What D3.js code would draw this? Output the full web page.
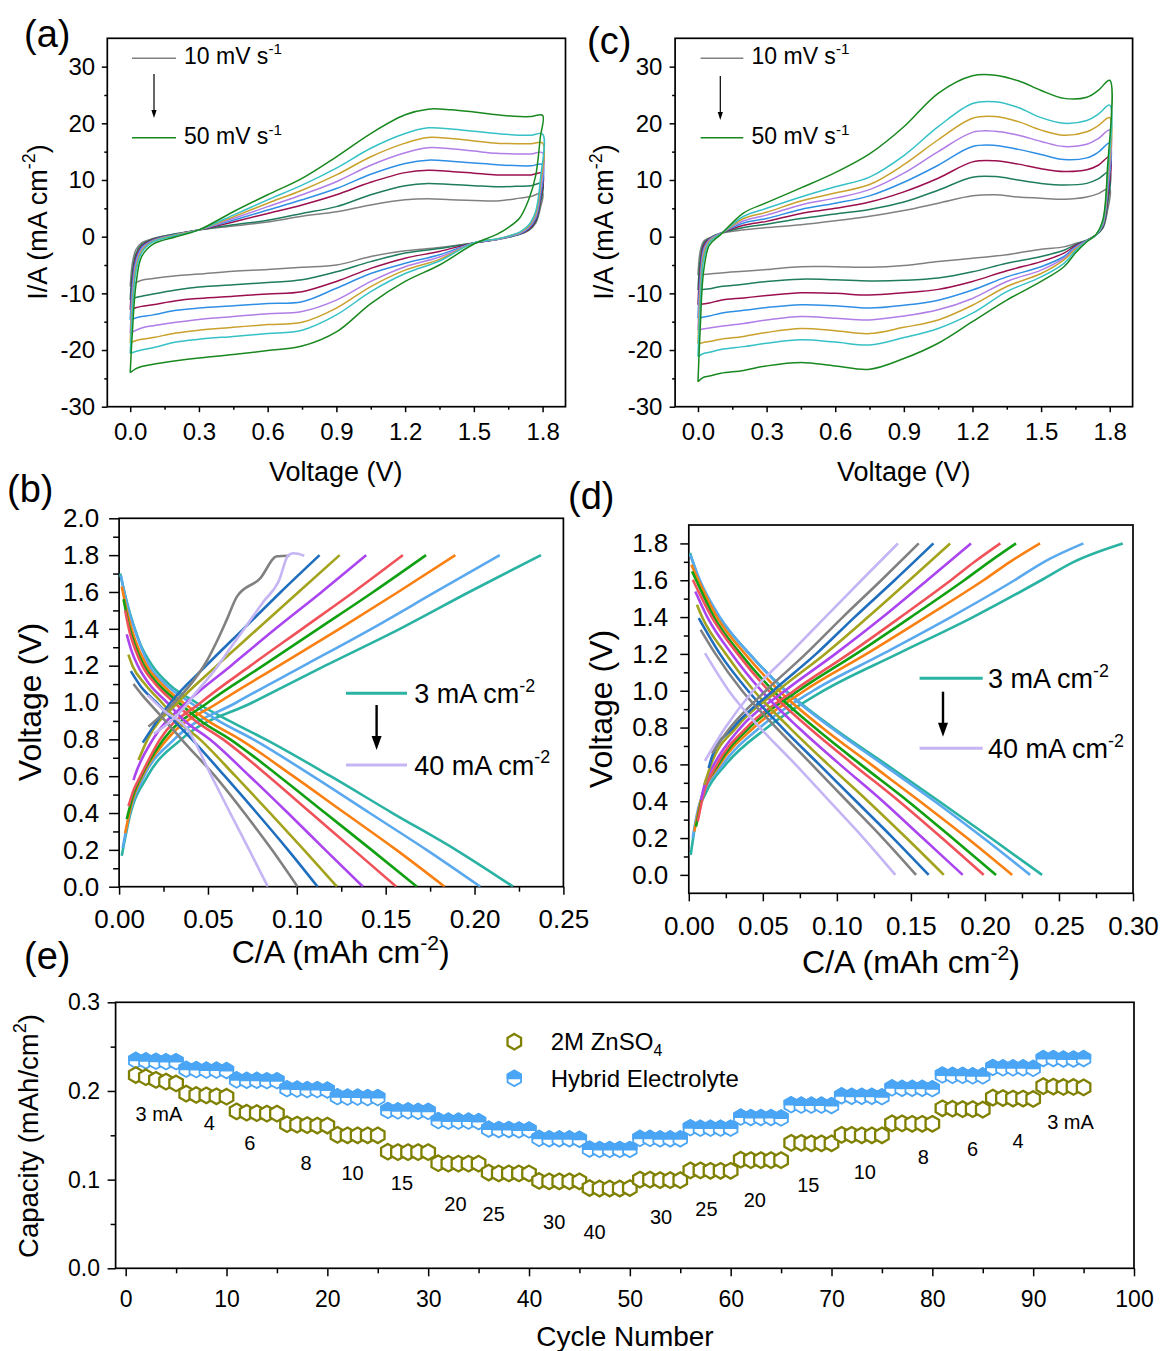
<!DOCTYPE html>
<html><head><meta charset="utf-8">
<script src="https://cdn.jsdelivr.net/npm/d3@7"></script>
<style>
body{margin:0;background:#fff}
svg{display:block;background:#fff}
</style></head><body>
<svg id="chart" width="1162" height="1351"></svg>
<script>
// ================= DATA =================
// CV panels (a) and (c): 8 scan rates (only first and last are labelled)
const cvScanRates = [10, 15, 20, 25, 30, 35, 40, 50];
const cvColors = ["#808080","#1f7c5e","#9b0f4e","#2f8fe4","#b07ee6","#c9a12c","#35c1c5","#18881f"];
const cvUpperV = [0,0.01,0.025,0.05,0.1,0.2,0.3,0.45,0.6,0.75,0.9,1.05,1.2,1.3,1.4,1.5,1.6,1.7,1.75,1.8];
const cvLowerV = [1.8,1.79,1.77,1.74,1.7,1.65,1.6,1.5,1.35,1.2,1.05,0.9,0.75,0.6,0.45,0.3,0.2,0.1,0.05,0.02,0];

const cvA_upper = [
 [-8.8,-4.5,-2.3,-1.1,-0.3,0.5,1.2,1.9,2.6,3.6,4.4,5.6,6.5,6.7,6.5,6.4,6.3,6.8,7.1,7.7],
 [-11.2,-6.0,-3.0,-1.4,-0.4,0.5,1.2,2.1,2.9,4.1,5.3,7.4,9.0,9.4,9.2,9.0,8.8,8.9,9.0,9.4],
 [-12.9,-7.5,-3.6,-1.7,-0.5,0.4,1.2,2.6,4.1,5.6,7.4,9.6,11.3,11.7,11.5,11.2,10.9,10.9,10.9,11.2],
 [-14.7,-8.5,-4.2,-1.9,-0.6,0.4,1.2,2.9,4.7,6.5,8.5,11.0,12.9,13.5,13.3,13.0,12.7,12.5,12.5,12.7],
 [-17.1,-10.0,-4.8,-2.2,-0.7,0.3,1.2,3.2,5.3,7.4,9.7,12.6,14.8,15.7,15.5,15.1,14.7,14.6,14.6,14.8],
 [-18.7,-11.5,-5.5,-2.5,-0.8,0.3,1.2,3.5,5.9,8.2,10.9,14.1,16.5,17.5,17.3,16.9,16.5,16.4,16.4,16.5],
 [-20.6,-13.0,-6.2,-2.8,-0.9,0.2,1.2,3.8,6.5,9.1,12.1,15.6,18.2,19.2,19.0,18.6,18.2,17.9,17.9,18.1],
 [-24.0,-16.5,-8.5,-3.5,-1.3,0.0,1.2,4.4,7.4,10.3,14.1,18.2,21.5,22.5,22.4,22.0,21.5,21.2,21.2,21.4]
];
const cvA_lower = [
 [7.7,5.0,2.4,1.1,0.4,-0.1,-0.5,-1.1,-1.9,-2.5,-3.5,-5.0,-5.4,-5.8,-6.1,-6.6,-6.9,-7.4,-7.7,-8.2,-8.8],
 [9.4,5.8,2.6,1.2,0.4,-0.1,-0.5,-1.1,-2.1,-2.9,-4.4,-6.2,-7.6,-8.1,-8.5,-8.9,-9.4,-10.1,-10.5,-10.8,-11.2],
 [11.2,6.4,2.9,1.3,0.5,0.0,-0.5,-1.1,-2.6,-3.8,-5.6,-7.9,-9.7,-10.1,-10.5,-10.9,-11.3,-12.0,-12.3,-12.6,-12.9],
 [12.7,7.0,3.2,1.5,0.5,0.0,-0.5,-1.1,-3.2,-4.7,-6.5,-9.1,-11.5,-11.8,-12.2,-12.6,-13.0,-13.8,-14.1,-14.4,-14.7],
 [14.8,8.0,3.6,1.7,0.6,0.0,-0.5,-1.1,-3.6,-5.3,-7.9,-11.2,-13.2,-13.6,-14.1,-14.6,-15.1,-15.7,-16.1,-16.6,-17.1],
 [16.5,9.0,4.0,1.9,0.7,0.1,-0.4,-1.1,-4.0,-5.9,-8.8,-12.6,-15.1,-15.5,-16.0,-16.5,-17.0,-17.8,-18.1,-18.4,-18.7],
 [18.1,10.0,4.5,2.1,0.8,0.1,-0.4,-1.1,-4.3,-6.5,-9.7,-13.8,-16.5,-17.1,-17.6,-18.1,-18.6,-19.6,-20.0,-20.3,-20.6],
 [21.4,17.5,10.8,6.6,3.3,1.6,0.4,-1.3,-5.0,-7.9,-11.8,-16.8,-19.3,-20.1,-20.8,-21.4,-21.9,-22.5,-22.9,-23.4,-24.0]
];
const cvC_upper = [
 [-6.8,-2.5,-0.8,-0.2,0.6,1.2,1.6,2.1,2.8,3.6,4.6,5.9,7.2,7.4,7.0,6.8,6.6,7.0,7.6,8.5],
 [-9.4,-4.0,-1.2,-0.3,0.6,1.6,2.2,3.2,4.0,4.8,6.1,8.2,10.5,10.6,10.0,9.4,9.1,9.4,10.2,11.5],
 [-12.0,-5.5,-1.6,-0.4,0.6,2.0,2.7,4.1,5.0,6.1,7.9,10.3,13.2,13.4,12.8,12.0,11.5,11.8,12.6,14.1],
 [-14.4,-7.0,-2.1,-0.5,0.6,2.4,3.2,4.8,5.9,7.2,9.6,12.6,15.9,16.1,15.4,14.5,13.6,13.9,14.9,16.5],
 [-16.5,-8.5,-2.6,-0.6,0.6,2.8,3.8,5.6,6.8,8.3,11.2,15.0,18.4,18.6,17.9,16.8,15.9,16.3,17.3,18.8],
 [-18.9,-10.0,-3.2,-0.8,0.5,3.2,4.3,6.3,7.7,9.2,12.7,17.1,20.9,21.2,20.3,18.8,17.9,18.5,19.6,21.0],
 [-21.2,-12.0,-4.0,-1.0,0.5,3.6,5.0,7.0,8.8,10.5,14.3,19.4,23.5,23.8,22.8,21.0,20.0,20.5,21.6,23.2],
 [-25.6,-16.0,-6.0,-1.5,0.4,4.2,6.0,8.6,11.3,14.6,19.4,25.3,28.4,28.5,27.5,25.8,24.4,24.6,25.8,27.6]
];
const cvC_lower = [
 [8.5,4.5,1.5,0.3,-0.6,-1.2,-1.8,-2.2,-3.2,-3.8,-4.4,-5.1,-5.4,-5.3,-5.3,-5.8,-6.1,-6.4,-6.6,-6.7,-6.8],
 [11.5,5.5,1.6,0.3,-0.6,-1.4,-2.4,-3.5,-4.7,-6.2,-7.3,-7.7,-7.8,-7.6,-7.5,-7.9,-8.4,-8.8,-9.2,-9.3,-9.4],
 [14.1,6.5,1.8,0.3,-0.7,-1.6,-2.9,-4.4,-6.0,-7.9,-9.3,-9.9,-10.3,-10.0,-9.9,-10.4,-10.8,-11.2,-11.7,-11.9,-12.0],
 [16.5,7.5,2.0,0.3,-0.7,-1.8,-3.5,-5.3,-7.1,-9.4,-11.2,-12.1,-12.6,-12.2,-12.0,-12.5,-13.0,-13.5,-14.0,-14.2,-14.4],
 [18.8,8.5,2.2,0.3,-0.7,-2.0,-3.8,-5.9,-7.9,-10.9,-12.9,-14.0,-14.7,-14.4,-14.1,-14.7,-15.3,-15.8,-16.1,-16.3,-16.5],
 [21.0,9.5,2.4,0.3,-0.8,-2.2,-4.1,-6.5,-8.8,-12.1,-14.7,-16.0,-17.1,-16.6,-16.2,-16.9,-17.6,-18.1,-18.5,-18.7,-18.9],
 [23.2,10.5,2.6,0.3,-0.8,-2.5,-4.7,-7.1,-9.7,-13.5,-16.2,-17.8,-19.1,-18.6,-18.2,-18.8,-19.4,-19.9,-20.4,-20.7,-21.2],
 [27.6,12.0,3.0,0.4,-0.9,-2.9,-5.3,-7.9,-11.2,-15.0,-18.8,-21.5,-23.4,-22.8,-22.2,-22.8,-23.6,-24.1,-24.6,-24.9,-25.6]
];

// GCD panels (b) and (d): [C/A (mAh cm-2), Voltage (V)] per current density
const gcdCurrents = [3, 4, 6, 8, 10, 15, 20, 25, 30, 40];
const gcdColors = ["#2ab3a2","#5aa9ef","#f98012","#11a011","#f0525a","#ab45ef","#a3a31d","#1f6fbe","#818181","#c5b5f4"];
const gcdB_charge = [
 [[.0015,.168],[.0062,.389],[.016,.6],[.035,.8],[.075,1.0],[.116,1.2],[.158,1.4],[.197,1.6],[.2374,1.8]],
 [[.002,.21],[.0065,.42],[.014,.6],[.031,.8],[.066,1.0],[.104,1.2],[.142,1.4],[.178,1.6],[.2142,1.8]],
 [[.0034,.29],[.0075,.47],[.013,.6],[.027,.8],[.056,1.0],[.090,1.2],[.124,1.4],[.157,1.6],[.1892,1.8]],
 [[.0043,.367],[.008,.5],[.0125,.6],[.025,.8],[.050,1.0],[.081,1.2],[.112,1.4],[.143,1.6],[.1727,1.8]],
 [[.0053,.438],[.008,.52],[.012,.6],[.023,.8],[.046,1.0],[.074,1.2],[.103,1.4],[.132,1.6],[.1597,1.8]],
 [[.0081,.579],[.0088,.6],[.019,.8],[.038,1.0],[.063,1.2],[.088,1.4],[.114,1.6],[.1391,1.8]],
 [[.0109,.688],[.016,.8],[.033,1.0],[.055,1.2],[.078,1.4],[.101,1.6],[.1241,1.8]],
 [[.0133,.782],[.0145,.8],[.029,1.0],[.049,1.2],[.070,1.4],[.091,1.6],[.1128,1.8]],
 [[.0165,.869],[.027,.96],[.035,1.04],[.042,1.12],[.049,1.22],[.0549,1.33],[.0606,1.45],[.0663,1.575],[.0794,1.674],[.0888,1.794],[.0959,1.797]],
 [[.0195,.83],[.0287,.896],[.0362,.968],[.0437,1.059],[.0531,1.167],[.0625,1.294],[.0719,1.42],[.0813,1.548],[.0897,1.656],[.0953,1.80],[.0982,1.81],[.1042,1.797]]
];
const gcdB_discharge = [
 [[.0006,1.70],[.0043,1.548],[.0081,1.421],[.0118,1.321],[.0187,1.2],[.028,1.1],[.0433,1.0],[.062,.9],[.0824,.8],[.119,.6],[.1538,.4],[.1895,.2],[.2217,0]],
 [[.001,1.69],[.0045,1.53],[.009,1.39],[.017,1.2],[.026,1.1],[.040,1.0],[.056,.9],[.0755,.8],[.109,.6],[.141,.4],[.173,.2],[.2033,0]],
 [[.0015,1.63],[.005,1.47],[.009,1.34],[.0155,1.2],[.024,1.1],[.036,1.0],[.050,.9],[.068,.8],[.098,.6],[.127,.4],[.156,.2],[.1832,0]],
 [[.0025,1.56],[.0055,1.42],[.009,1.31],[.014,1.2],[.022,1.1],[.0335,1.0],[.046,.9],[.0625,.8],[.09,.6],[.116,.4],[.142,.2],[.1676,0]],
 [[.0034,1.50],[.006,1.38],[.009,1.29],[.013,1.2],[.0205,1.1],[.031,1.0],[.043,.9],[.0585,.8],[.084,.6],[.108,.4],[.132,.2],[.156,0]],
 [[.0043,1.37],[.007,1.28],[.0105,1.2],[.017,1.1],[.027,1.0],[.037,.9],[.051,.8],[.0735,.6],[.095,.4],[.116,.2],[.1372,0]],
 [[.0052,1.26],[.0075,1.2],[.0145,1.1],[.024,1.0],[.033,.9],[.0455,.8],[.0655,.6],[.085,.4],[.104,.2],[.1226,0]],
 [[.0066,1.17],[.012,1.09],[.021,1.0],[.029,.92],[.041,.8],[.0595,.6],[.0775,.4],[.095,.2],[.1117,0]],
 [[.0081,1.10],[.013,1.04],[.0185,.98],[.026,.9],[.037,.78],[.054,.6],[.0705,.4],[.086,.2],[.1004,0]],
 [[.016,1.04],[.026,.95],[.0381,.86],[.052,.6],[.0625,.4],[.0732,.2],[.0837,0]]
];
const gcdD_charge = [
 [[.0013,.109],[.005,.3],[.0118,.45],[.025,.6],[.053,.8],[.091,1.0],[.141,1.2],[.192,1.4],[.238,1.6],[.260,1.7],[.2931,1.8]],
 [[.0026,.2],[.007,.38],[.023,.6],[.048,.8],[.084,1.0],[.131,1.2],[.177,1.4],[.220,1.6],[.240,1.7],[.2665,1.8]],
 [[.0037,.235],[.008,.4],[.021,.6],[.044,.8],[.078,1.0],[.120,1.2],[.160,1.4],[.199,1.6],[.217,1.7],[.2372,1.8]],
 [[.0049,.263],[.009,.42],[.020,.6],[.041,.8],[.074,1.0],[.113,1.2],[.150,1.4],[.186,1.6],[.203,1.7],[.221,1.8]],
 [[.006,.29],[.010,.44],[.019,.6],[.039,.8],[.071,1.0],[.108,1.2],[.143,1.4],[.177,1.6],[.193,1.7],[.2104,1.8]],
 [[.0082,.407],[.011,.5],[.017,.6],[.035,.8],[.065,1.0],[.099,1.2],[.131,1.4],[.161,1.6],[.1906,1.8]],
 [[.0105,.489],[.015,.6],[.032,.8],[.060,1.0],[.092,1.2],[.121,1.4],[.149,1.6],[.1765,1.8]],
 [[.0134,.58],[.016,.65],[.030,.8],[.057,1.0],[.086,1.2],[.112,1.4],[.139,1.6],[.1652,1.8]],
 [[.0157,.661],[.028,.8],[.052,1.0],[.079,1.2],[.104,1.4],[.130,1.6],[.1553,1.8]],
 [[.0109,.619],[.0247,.8],[.0434,1.0],[.068,1.2],[.0922,1.4],[.1166,1.6],[.1413,1.8]]
];
const gcdD_discharge = [
 [[.0008,1.748],[.0071,1.6],[.0206,1.4],[.0409,1.2],[.0656,1.0],[.0972,.8],[.1332,.6],[.169,.4],[.204,.2],[.2386,0]],
 [[.001,1.738],[.0075,1.6],[.021,1.4],[.041,1.2],[.065,1.0],[.096,.8],[.131,.6],[.166,.4],[.199,.2],[.2305,0]],
 [[.0017,1.684],[.0065,1.6],[.019,1.4],[.038,1.2],[.061,1.0],[.09,.8],[.123,.6],[.156,.4],[.188,.2],[.2183,0]],
 [[.0022,1.648],[.005,1.6],[.017,1.4],[.035,1.2],[.057,1.0],[.085,.8],[.116,.6],[.148,.4],[.178,.2],[.2075,0]],
 [[.0027,1.603],[.0155,1.4],[.033,1.2],[.054,1.0],[.081,.8],[.111,.6],[.142,.4],[.171,.2],[.1992,0]],
 [[.0044,1.539],[.0125,1.4],[.029,1.2],[.049,1.0],[.074,.8],[.102,.6],[.131,.4],[.158,.2],[.185,0]],
 [[.0055,1.467],[.009,1.4],[.025,1.2],[.044,1.0],[.068,.8],[.094,.6],[.121,.4],[.147,.2],[.1722,0]],
 [[.0067,1.394],[.021,1.2],[.040,1.0],[.063,.8],[.088,.6],[.113,.4],[.138,.2],[.162,0]],
 [[.008,1.331],[.018,1.2],[.036,1.0],[.059,.8],[.083,.6],[.107,.4],[.131,.2],[.1535,0]],
 [[.0109,1.204],[.027,1.0],[.048,.8],[.072,.6],[.095,.4],[.118,.2],[.1395,0]]
];

// Rate capability (e)
const cycleNumbers = d3.range(1, 96);
const capZnSO4 = [
 0.218,0.2155,0.2125,0.2105,0.2085, 0.197,0.1955,0.195,0.194,0.1935,
 0.177,0.1755,0.175,0.1745,0.1745, 0.1625,0.162,0.1615,0.161,0.161,
 0.1505,0.150,0.150,0.150,0.150, 0.1315,0.131,0.131,0.131,0.131,
 0.1185,0.118,0.118,0.118,0.118, 0.108,0.107,0.107,0.107,0.107,
 0.0985,0.098,0.098,0.098,0.098, 0.0905,0.090,0.090,0.090,0.0905,
 0.100,0.100,0.0995,0.0995,0.0995, 0.1105,0.1105,0.110,0.110,0.110,
 0.1225,0.122,0.122,0.122,0.122, 0.1415,0.1415,0.141,0.141,0.141,
 0.1505,0.1505,0.150,0.150,0.150, 0.1635,0.1635,0.163,0.163,0.163,
 0.1805,0.180,0.1795,0.1795,0.179, 0.1925,0.192,0.1915,0.1915,0.191,
 0.2055,0.205,0.2045,0.2045,0.204
];
const capHybrid = [
 0.2345,0.234,0.2335,0.233,0.233, 0.2245,0.224,0.2235,0.2235,0.223,
 0.2125,0.212,0.212,0.2115,0.2115, 0.2025,0.202,0.2015,0.2015,0.201,
 0.1935,0.193,0.193,0.1925,0.1925, 0.178,0.1775,0.1775,0.177,0.177,
 0.1665,0.166,0.166,0.166,0.1655, 0.157,0.1565,0.1565,0.156,0.156,
 0.1465,0.146,0.146,0.146,0.1455, 0.1345,0.134,0.134,0.134,0.134,
 0.1465,0.1465,0.146,0.146,0.146, 0.1585,0.158,0.158,0.158,0.158,
 0.1705,0.170,0.170,0.170,0.1695, 0.1845,0.184,0.184,0.184,0.1835,
 0.1945,0.194,0.194,0.194,0.1935, 0.2035,0.203,0.203,0.203,0.2025,
 0.218,0.2175,0.2175,0.217,0.217, 0.2265,0.226,0.226,0.226,0.2255,
 0.2365,0.2365,0.236,0.236,0.2365
];
const rateLabels = ["3 mA","4","6","8","10","15","20","25","30","40","30","25","20","15","10","8","6","4","3 mA"];
const rateLabelCycle = [3.3,8.3,12.3,17.9,22.5,27.4,32.7,36.5,42.5,46.5,53.1,57.6,62.4,67.7,73.3,79.1,84.0,88.5,93.7];
const rateLabelCap = [.174,.164,.141,.119,.108,.096,.073,.061,.053,.041,.058,.067,.077,.094,.109,.126,.135,.144,.165];

// tick values
const cvXMajor=[0,0.3,0.6,0.9,1.2,1.5,1.8], cvXMinor=[0.15,0.45,0.75,1.05,1.35,1.65];
const cvYMajor=[-30,-20,-10,0,10,20,30], cvYMinor=[-25,-15,-5,5,15,25];
const bXMajor=[0,0.05,0.1,0.15,0.2,0.25], bXMinor=[0.025,0.075,0.125,0.175,0.225];
const bYMajor=[0,0.2,0.4,0.6,0.8,1.0,1.2,1.4,1.6,1.8,2.0], bYMinor=[0.1,0.3,0.5,0.7,0.9,1.1,1.3,1.5,1.7,1.9];
const dXMajor=[0,0.05,0.1,0.15,0.2,0.25,0.3], dXMinor=[0.025,0.075,0.125,0.175,0.225,0.275];
const dYMajor=[0,0.2,0.4,0.6,0.8,1.0,1.2,1.4,1.6,1.8], dYMinor=[0.1,0.3,0.5,0.7,0.9,1.1,1.3,1.5,1.7];
const eXMajor=[0,10,20,30,40,50,60,70,80,90,100], eXMinor=[5,15,25,35,45,55,65,75,85,95];
const eYMajor=[0,0.1,0.2,0.3], eYMinor=[0.05,0.15,0.25];

// ================= DRAWING =================
const FONT='"Liberation Sans", Arial, Helvetica, sans-serif';
const svg=d3.select("#chart");
svg.append("rect").attr("width",1162).attr("height",1351).attr("fill","#fff");

function rich(sel, parts, fs){
  let shift=0;
  parts.forEach(([s,t])=>{
    const ts=sel.append("tspan").text(s);
    const target = t===1 ? -0.42*fs : (t===2 ? 0.22*fs : 0);
    ts.attr("dy", target-shift); shift=target;
    if(t) ts.attr("font-size", fs*0.66);
  });
}
function label(x,y,parts,fs,opts={}){
  const t=svg.append("text").attr("font-family",FONT).attr("font-size",fs).attr("fill","#000")
    .attr("text-anchor",opts.anchor||"start");
  if(opts.rotate){ t.attr("transform",`translate(${x},${y}) rotate(-90)`); }
  else { t.attr("x",x).attr("y",y); }
  rich(t, parts, fs);
  return t;
}

function makePanel(o){
  const g=svg.append("g");
  const x=d3.scaleLinear().domain(o.xd).range([o.left,o.right]);
  const y=d3.scaleLinear().domain(o.yd).range([o.bottom,o.top]);
  const cid="clip-"+o.name;
  svg.append("clipPath").attr("id",cid).append("rect")
    .attr("x",o.left).attr("y",o.top).attr("width",o.right-o.left).attr("height",o.bottom-o.top);
  const ax=(fn,scale,vals,size,pad,fmt,tr)=>{
    const a=g.append("g").attr("transform",tr)
      .call(fn(scale).tickValues(vals).tickSize(size).tickPadding(pad).tickFormat(fmt));
    a.select(".domain").remove();
    a.attr("font-family",FONT).attr("font-size",o.fs);
    a.selectAll("line").attr("stroke","#000").attr("stroke-width",1.5);
    a.selectAll("text").attr("fill","#000");
  };
  ax(d3.axisBottom,x,o.xMajor,o.xMaj,o.xPad,o.xFmt,`translate(0,${o.bottom})`);
  ax(d3.axisBottom,x,o.xMinor,o.xMin,0,()=>"",`translate(0,${o.bottom})`);
  ax(d3.axisLeft,y,o.yMajor,o.yMaj,o.yPad,o.yFmt,`translate(${o.left},0)`);
  ax(d3.axisLeft,y,o.yMinor,o.yMin,0,()=>"",`translate(${o.left},0)`);
  const plot=svg.append("g").attr("clip-path",`url(#${cid})`);
  g.append("rect").attr("x",o.left).attr("y",o.top).attr("width",o.right-o.left).attr("height",o.bottom-o.top)
    .attr("fill","none").attr("stroke","#000").attr("stroke-width",1.7);
  return {x,y,plot,g};
}
const f1=v=>v.toFixed(1), f2=v=>v.toFixed(2), f0=v=>String(v);

// ---- panels ----
const PA=makePanel({name:"a",left:107.3,right:565.5,top:38.3,bottom:406.7,xd:[-0.1,1.9],yd:[-30,35],
  xMajor:cvXMajor,xMinor:cvXMinor,yMajor:cvYMajor,yMinor:cvYMinor,xMaj:5.5,xMin:3,yMaj:5.5,yMin:3,
  xPad:11,yPad:6.7,xFmt:f1,yFmt:f0,fs:24});
const PC=makePanel({name:"c",left:675.1,right:1132.6,top:38.3,bottom:406.7,xd:[-0.1,1.9],yd:[-30,35],
  xMajor:cvXMajor,xMinor:cvXMinor,yMajor:cvYMajor,yMinor:cvYMinor,xMaj:5.5,xMin:3,yMaj:5.5,yMin:3,
  xPad:11,yPad:7.2,xFmt:f1,yFmt:f0,fs:24});
const PB=makePanel({name:"b",left:119.1,right:563.4,top:518.3,bottom:886.7,xd:[0,0.25],yd:[0,2],
  xMajor:bXMajor,xMinor:bXMinor,yMajor:bYMajor,yMinor:bYMinor,xMaj:8,xMin:5,yMaj:10,yMin:6,
  xPad:14.4,yPad:10,xFmt:f2,yFmt:f1,fs:26});
const PD=makePanel({name:"d",left:688.8,right:1133,top:525,bottom:893.3,xd:[0,0.3],yd:[-0.1,1.9],
  xMajor:dXMajor,xMinor:dXMinor,yMajor:dYMajor,yMinor:dYMinor,xMaj:8,xMin:5,yMaj:8.5,yMin:5,
  xPad:15.2,yPad:12,xFmt:f2,yFmt:f1,fs:26});
const PE=makePanel({name:"e",left:115.6,right:1134,top:1002.3,bottom:1268.3,xd:[-1,100],yd:[0,0.3],
  xMajor:eXMajor,xMinor:eXMinor,yMajor:eYMajor,yMinor:eYMinor,xMaj:8,xMin:5,yMaj:8,yMin:5,
  xPad:14,yPad:7.6,xFmt:f0,yFmt:f1,fs:23});

// ---- CV curves ----
function drawCV(P, upper, lower){
  const line=d3.line().x(d=>P.x(d[0])).y(d=>P.y(d[1])).curve(d3.curveCatmullRom.alpha(0.5));
  upper.forEach((u,i)=>{
    const pts=cvUpperV.map((v,k)=>[v,u[k]]).concat(cvLowerV.slice(1).map((v,k)=>[v,lower[i][k+1]]));
    P.plot.append("path").attr("d",line(pts)).attr("fill","none")
      .attr("stroke",cvColors[i]).attr("stroke-width",1.5).attr("stroke-linejoin","round");
  });
}
drawCV(PA,cvA_upper,cvA_lower);
drawCV(PC,cvC_upper,cvC_lower);

// ---- GCD curves ----
function drawGCD(P, charge, discharge){
  const line=d3.line().x(d=>P.x(d[0])).y(d=>P.y(d[1])).curve(d3.curveMonotoneX);
  gcdCurrents.forEach((c,i)=>{
    [charge[i],discharge[i]].forEach(pts=>{
      P.plot.append("path").attr("d",line(pts)).attr("fill","none")
        .attr("stroke",gcdColors[i]).attr("stroke-width",2.6).attr("stroke-linejoin","round");
    });
  });
}
drawGCD(PB,gcdB_charge,gcdB_discharge);
drawGCD(PD,gcdD_charge,gcdD_discharge);

// ---- rate capability markers ----
const HR=7.8, HW=HR*Math.cos(Math.PI/6);
const hexD=`M0,${-HR}L${HW},${-HR/2}L${HW},${HR/2}L0,${HR}L${-HW},${HR/2}L${-HW},${-HR/2}Z`;
const hexTopD=`M${-HW},0L${-HW},${-HR/2}L0,${-HR}L${HW},${-HR/2}L${HW},0Z`;
const OLIVE="#808000", BLUE="#4aa5f5";
function hybridMarker(g,cx,cy){
  const m=g.append("g").attr("transform",`translate(${cx},${cy})`);
  m.append("path").attr("d",hexD).attr("fill","#fff").attr("stroke",BLUE).attr("stroke-width",1.8);
  m.append("path").attr("d",hexTopD).attr("fill",BLUE).attr("stroke",BLUE).attr("stroke-width",1.8).attr("stroke-linejoin","round");
}
function znMarker(g,cx,cy){
  g.append("path").attr("transform",`translate(${cx},${cy})`).attr("d",hexD)
    .attr("fill","#fff").attr("stroke",OLIVE).attr("stroke-width",2.3);
}
cycleNumbers.forEach((c,i)=>hybridMarker(PE.plot,PE.x(c),PE.y(capHybrid[i])));
cycleNumbers.forEach((c,i)=>znMarker(PE.plot,PE.x(c),PE.y(capZnSO4[i])));
rateLabels.forEach((t,i)=>{
  svg.append("text").attr("x",PE.x(rateLabelCycle[i])).attr("y",PE.y(rateLabelCap[i])+7.2)
    .attr("text-anchor","middle").attr("font-family",FONT).attr("font-size",20).attr("fill","#000").text(t);
});
// legend (e)
znMarker(svg,514.3,1041.7);
hybridMarker(svg,514.3,1078.3);
label(550.7,1050.3,[["2M ZnSO",0],["4",2]],24);
label(550.7,1086.9,[["Hybrid Electrolyte",0]],24);

// ---- legends (a),(c) ----
function cvLegend(x1,x2,tx,ax,ay1,ay2){
  svg.append("line").attr("x1",x1).attr("x2",x2).attr("y1",58.3).attr("y2",58.3).attr("stroke",cvColors[0]).attr("stroke-width",1.5);
  svg.append("line").attr("x1",x1).attr("x2",x2).attr("y1",137.7).attr("y2",137.7).attr("stroke",cvColors[7]).attr("stroke-width",1.5);
  label(tx,63.5,[[cvScanRates[0]+" mV s",0],["-1",1]],23);
  label(tx,144.3,[[cvScanRates[7]+" mV s",0],["-1",1]],23);
  svg.append("line").attr("x1",ax).attr("x2",ax).attr("y1",ay1).attr("y2",ay2-6).attr("stroke","#000").attr("stroke-width",1.2);
  svg.append("path").attr("d",`M${ax-2.6},${ay2-8}L${ax+2.6},${ay2-8}L${ax},${ay2}Z`).attr("fill","#000");
}
cvLegend(132,176,184,154,74,118);
cvLegend(700.6,743.3,751.5,720.3,76,120);

// ---- legends (b),(d) ----
function gcdLegend(x1,x2,tx,y1,y2,ax,ay1,ay2){
  svg.append("line").attr("x1",x1).attr("x2",x2).attr("y1",y1).attr("y2",y1).attr("stroke",gcdColors[0]).attr("stroke-width",3);
  svg.append("line").attr("x1",x1).attr("x2",x2).attr("y1",y2).attr("y2",y2).attr("stroke",gcdColors[9]).attr("stroke-width",3);
  label(tx,y1+9.7,[[gcdCurrents[0]+" mA cm",0],["-2",1]],27);
  label(tx,y2+9.7,[[gcdCurrents[9]+" mA cm",0],["-2",1]],27);
  svg.append("line").attr("x1",ax).attr("x2",ax).attr("y1",ay1).attr("y2",ay2-10).attr("stroke","#000").attr("stroke-width",2.4);
  svg.append("path").attr("d",`M${ax-5},${ay2-14}L${ax+5},${ay2-14}L${ax},${ay2}Z`).attr("fill","#000");
}
gcdLegend(346,407,414.3,693.3,765,376.6,705,750);
gcdLegend(919.6,982.7,988,678.3,748.3,943,691.7,736.7);

// ---- axis titles ----
label(335.7,481,[["Voltage (V)",0]],27,{anchor:"middle"});
label(903.8,481,[["Voltage (V)",0]],27,{anchor:"middle"});
label(46.5,222,[["I/A (mA cm",0],["-2",1],[")",0]],27,{anchor:"middle",rotate:true});
label(613.3,222,[["I/A (mA cm",0],["-2",1],[")",0]],27,{anchor:"middle",rotate:true});
label(340.7,963.3,[["C/A (mAh cm",0],["-2",1],[")",0]],32,{anchor:"middle"});
label(911,973.3,[["C/A (mAh cm",0],["-2",1],[")",0]],32,{anchor:"middle"});
label(41.4,702,[["Voltage (V)",0]],32,{anchor:"middle",rotate:true});
label(612.3,709,[["Voltage (V)",0]],32,{anchor:"middle",rotate:true});
label(625,1346,[["Cycle Number",0]],28,{anchor:"middle"});
label(38,1136,[["Capacity (mAh/cm",0],["2",1],[")",0]],27.5,{anchor:"middle",rotate:true});

// ---- panel letters ----
label(24,47,[["(a)",0]],38);
label(587,54,[["(c)",0]],38);
label(7,502,[["(b)",0]],38);
label(568,509,[["(d)",0]],38);
label(24,969,[["(e)",0]],38);
</script>
</body></html>
